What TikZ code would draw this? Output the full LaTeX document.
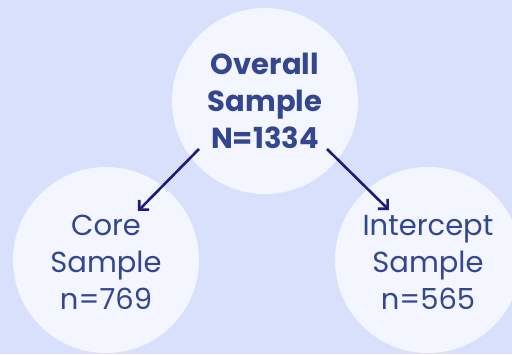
\documentclass[tikz,border=0pt]{standalone}
\usepackage{fontspec}
\setmainfont{Poppins}
\usetikzlibrary{arrows.meta}
\definecolor{bgblue}{HTML}{D8E0FC}
\definecolor{discfill}{HTML}{F3F6FE}
\definecolor{labeltext}{HTML}{34468F}
\definecolor{arrowink}{HTML}{1F1B7A}
\tikzset{
  disc/.style={circle, fill=discfill, draw=none, minimum size=186pt, inner sep=0pt},
  label/.style={text=labeltext, align=center, font=\fontsize{29}{37}\selectfont},
  link/.style={draw=arrowink, line width=2.6pt, -{Straight Barb[length=7pt,width=14pt,line width=2.6pt]}}
}
\begin{document}
\begin{tikzpicture}[x=1pt,y=-1pt]
  \useasboundingbox (0,0) rectangle (512,354);
  \clip (0,0) rectangle (512,354);
  \fill[bgblue] (0,0) rectangle (512,354);
  % three discs
  \node[disc] (top) at (265,101) {};
  \node[disc] (left) at (106,260) {};
  \node[disc] (right) at (428,260) {};
  % labels
  \node[label, font=\fontsize{29}{37}\selectfont\bfseries] (toptext) at (265,101) {Overall\\Sample\\N=1334};
  \node[label] (lefttext) at (106,262) {Core\\Sample\\n=769};
  \node[label] (righttext) at (428,262) {Intercept\\Sample\\n=565};
  % connectors
  \coordinate (ls) at (199,149);
  \coordinate (le) at (138,211);
  \coordinate (rs) at (327,149);
  \coordinate (re) at (389,210);
  \draw[link] (ls) -- (le);
  \draw[link] (rs) -- (re);
\end{tikzpicture}
\end{document}
